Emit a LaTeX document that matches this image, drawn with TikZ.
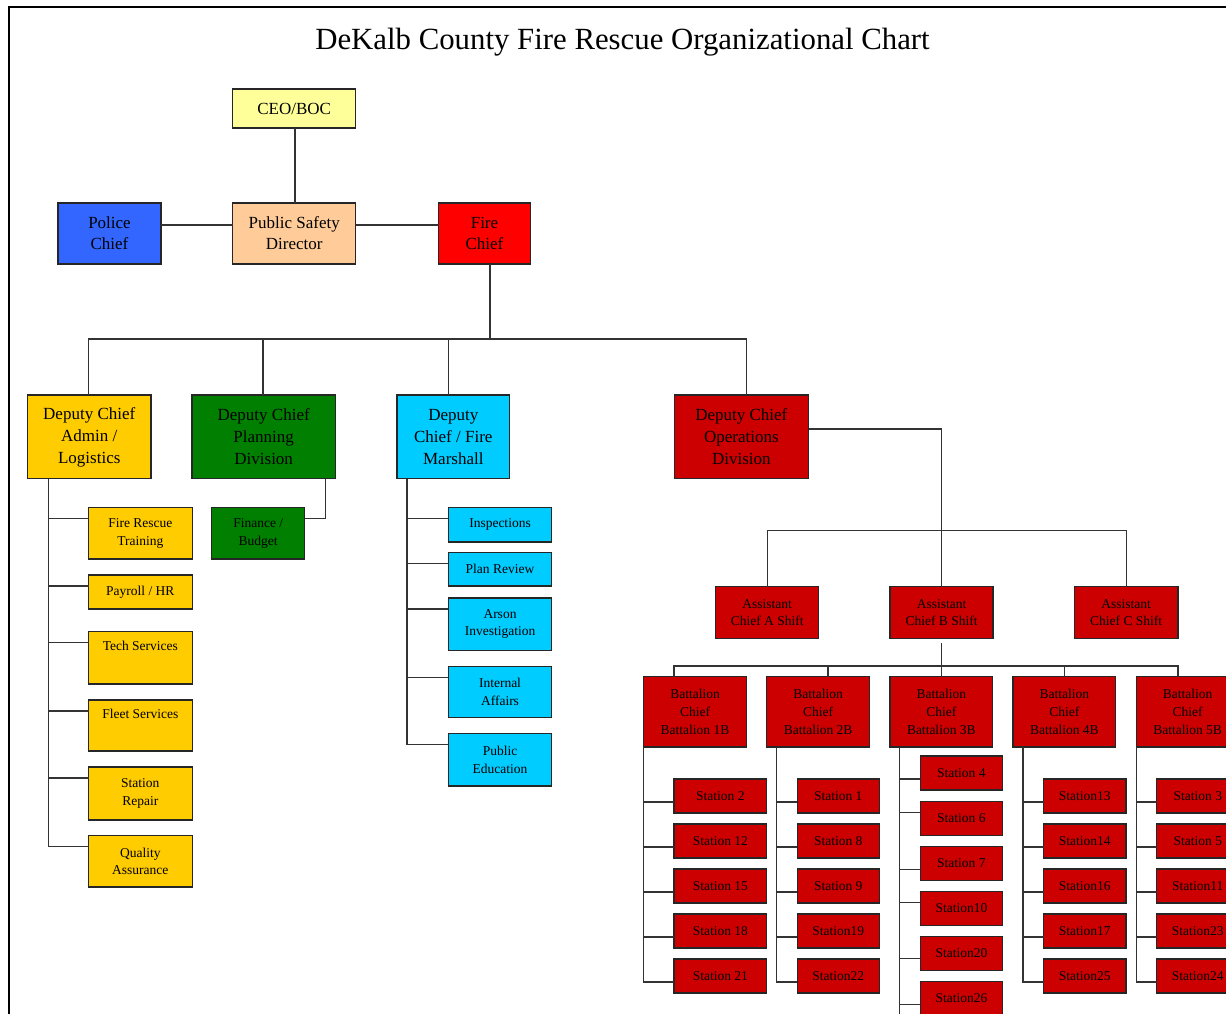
\documentclass[tikz,border=0pt]{standalone}
\usepackage{fontspec}
\setmainfont{Liberation Serif}
\usetikzlibrary{calc}
\definecolor{ceoY}{HTML}{FFFF99}
\definecolor{peach}{HTML}{FFCC99}
\definecolor{policeB}{HTML}{3366FF}
\definecolor{fireR}{HTML}{FF0000}
\definecolor{goldY}{HTML}{FFCC00}
\definecolor{planG}{HTML}{007F00}
\definecolor{cyanB}{HTML}{00CCFF}
\definecolor{opsR}{HTML}{CC0000}
\begin{document}
\begin{tikzpicture}[x=1pt,y=-1pt,
  box/.style={draw=black!85, line width=1.1pt, inner sep=1pt, outer sep=0pt, anchor=north west, align=center},
  big/.style={font=\fontsize{17}{21}\selectfont},
  dep/.style={font=\fontsize{17}{22}\selectfont},
  sml/.style={font=\fontsize{13.5}{17.5}\selectfont},
  bat/.style={font=\fontsize{13.5}{18}\selectfont},
  wire/.style={draw=black!80, line width=1.1pt},
]
\useasboundingbox (0,0) rectangle (1226,1014);
\clip (0,0) rectangle (1226,1014);
% frame
\draw[line width=1.6pt] (9,1030) -- (9,7) -- (1240,7);
% title
\node[font=\fontsize{30.8}{36}\selectfont, anchor=base, inner sep=0pt] (title) at (622.5,50) {DeKalb County Fire Rescue Organizational Chart};

% ---------- connectors (drawn first, boxes on top) ----------
\coordinate (fcbus) at (490,339);
\coordinate (admT) at (48.2,478.7);
\coordinate (marT) at (407,478.7);
\coordinate (shbus) at (941.5,530.7);
\coordinate (bbus) at (941.5,666);

% top level
\node[box, big, fill=ceoY, minimum width=123.4pt, minimum height=39pt] (ceo) at (232.5,89) {CEO/BOC};
\node[box, big, fill=policeB, minimum width=103pt, minimum height=61pt] (police) at (58,203) {Police\\Chief};
\node[box, big, fill=peach, minimum width=123.4pt, minimum height=61pt] (psd) at (232.5,203) {Public Safety\\Director};
\node[box, big, fill=fireR, minimum width=92pt, minimum height=61pt] (fire) at (438.5,203) {Fire\\Chief};

% deputies
\node[box, dep, fill=goldY, minimum width=123.5pt, minimum height=83.7pt] (admin) at (27.5,395) {Deputy Chief\\Admin /\\Logistics};
\node[box, dep, fill=planG, minimum width=143.4pt, minimum height=83.7pt] (planning) at (192,395) {Deputy Chief\\Planning\\Division};
\node[box, dep, fill=cyanB, minimum width=112.6pt, minimum height=83.7pt] (marshal) at (397,395) {Deputy\\Chief / Fire\\Marshall};
\node[box, dep, fill=opsR, minimum width=134.5pt, minimum height=83.7pt] (ops) at (674.1,395) {Deputy Chief\\Operations\\Division};

% admin children
\node[box, sml, fill=goldY, minimum width=103.5pt, minimum height=51.3pt] (frt) at (88.6,507.7) {Fire Rescue\\Training};
\node[box, sml, fill=goldY, minimum width=103.5pt, minimum height=34pt] (pay) at (88.6,575) {Payroll / HR};
\node[box, sml, fill=goldY, minimum width=103.5pt, minimum height=52.7pt] (tech) at (88.6,631.3) {Tech Services\\\strut};
\node[box, sml, fill=goldY, minimum width=103.5pt, minimum height=51pt] (fleet) at (88.6,700) {Fleet Services\\\strut};
\node[box, sml, fill=goldY, minimum width=103.5pt, minimum height=53pt] (repair) at (88.6,767) {Station\\Repair};
\node[box, sml, fill=goldY, minimum width=103.5pt, minimum height=51.7pt] (qa) at (88.6,835.3) {Quality\\Assurance};
% finance
\node[box, sml, fill=planG, minimum width=92.8pt, minimum height=51.3pt] (finance) at (211.8,507.7) {Finance /\\Budget};
% marshal children
\node[box, sml, fill=cyanB, minimum width=103.6pt, minimum height=34.3pt] (insp) at (448.2,507.7) {Inspections};
\node[box, sml, fill=cyanB, minimum width=103.6pt, minimum height=33.7pt] (planrev) at (448.2,552.3) {Plan Review};
\node[box, sml, fill=cyanB, minimum width=103.6pt, minimum height=52.3pt] (arson) at (448.2,598) {Arson\\Investigation};
\node[box, sml, fill=cyanB, minimum width=103.6pt, minimum height=51.4pt] (ia) at (448.2,666.3) {Internal\\Affairs};
\node[box, sml, fill=cyanB, minimum width=103.6pt, minimum height=52.3pt] (pe) at (448.2,733.7) {Public\\Education};

% assistant chiefs
\node[box, sml, fill=opsR, minimum width=102.6pt, minimum height=51.6pt] (astA) at (715.9,586.7) {Assistant\\Chief A Shift};
\node[box, sml, fill=opsR, minimum width=103pt, minimum height=51.6pt] (astB) at (890,586.7) {Assistant\\Chief B Shift};
\node[box, sml, fill=opsR, minimum width=103.7pt, minimum height=51.6pt] (astC) at (1074.3,586.7) {Assistant\\Chief C Shift};

% battalion chiefs
\node[box, bat, fill=opsR, minimum width=102.6pt, minimum height=70.3pt] (b1) at (643.7,676.7) {Battalion\\Chief\\Battalion 1B};
\node[box, bat, fill=opsR, minimum width=102.6pt, minimum height=70.3pt] (b2) at (766.8,676.7) {Battalion\\Chief\\Battalion 2B};
\node[box, bat, fill=opsR, minimum width=102.6pt, minimum height=70.3pt] (b3) at (890,676.7) {Battalion\\Chief\\Battalion 3B};
\node[box, bat, fill=opsR, minimum width=102.6pt, minimum height=70.3pt] (b4) at (1013,676.7) {Battalion\\Chief\\Battalion 4B};
\node[box, bat, fill=opsR, minimum width=102.6pt, minimum height=70.3pt] (b5) at (1136.3,676.7) {Battalion\\Chief\\Battalion 5B};

% stations
\foreach \lab [count=\i from 0] in {Station 2,Station 12,Station 15,Station 18,Station 21}
  \node[box, sml, fill=opsR, minimum width=92.8pt, minimum height=34pt] (sa\i) at (674,779+45*\i) {\lab};
\foreach \lab [count=\i from 0] in {Station 1,Station 8,Station 9,Station19,Station22}
  \node[box, sml, fill=opsR, minimum width=82pt, minimum height=34pt] (sb\i) at (797.2,779+45*\i) {\lab};
\foreach \lab [count=\i from 0] in {Station 4,Station 6,Station 7,Station10,Station20,Station26}
  \node[box, sml, fill=opsR, minimum width=82pt, minimum height=34pt] (sc\i) at (920.4,756+45.1*\i) {\lab};
\foreach \lab [count=\i from 0] in {Station13,Station14,Station16,Station17,Station25}
  \node[box, sml, fill=opsR, minimum width=82.5pt, minimum height=34pt] (sd\i) at (1043.5,779+45*\i) {\lab};
\foreach \lab [count=\i from 0] in {Station 3,Station 5,Station11,Station23,Station24}
  \node[box, sml, fill=opsR, minimum width=82pt, minimum height=34pt] (se\i) at (1156.8,779+45*\i) {\lab};

% ---------- connectors ----------
\draw[wire] (ceo.south -| 295,0) -- (psd.north -| 295,0);
\draw[wire] (police.east |- 0,225) -- (psd.west |- 0,225);
\draw[wire] (psd.east |- 0,225) -- (fire.west |- 0,225);
\draw[wire] (fire.south -| fcbus) -- (fcbus);
\draw[wire] (admin.north -| 88.7,0) |- (fcbus) -| (ops.north -| 746.3,0);
\draw[wire] (planning.north -| 263,0) -- (fcbus -| 263,0);
\draw[wire] (marshal.north -| 448.3,0) -- (fcbus -| 448.3,0);

% admin branch
\draw[wire] (admin.south -| admT) |- ([yshift=-11pt]qa.north west);
\foreach \n in {frt,pay,tech,fleet,repair} {
  \path ([yshift=-11pt]\n.north west) coordinate (p\n);
  \draw[wire] (p\n) -- (p\n -| admT);
}
% finance
\draw[wire] (planning.south -| 325.4,0) |- ([yshift=-11pt]finance.north east);
% marshal branch
\draw[wire] (marshal.south -| marT) |- ([yshift=-11pt]pe.north west);
\foreach \n in {insp,planrev,arson,ia} {
  \path ([yshift=-11pt]\n.north west) coordinate (p\n);
  \draw[wire] (p\n) -- (p\n -| marT);
}

% operations branch
\draw[wire] ([yshift=-34pt]ops.north east) -| (astB.north -| shbus);
\draw[wire] (astA.north) |- (shbus) -| (astC.north);
\draw[wire] ([yshift=-5pt]astB.south -| bbus) -- (b3.north -| bbus);
\draw[wire] (b1.north -| 674,0) |- (bbus) -| (b5.north -| 1178,0);
\draw[wire] (b2.north -| 828,0) -- (bbus -| 828,0);
\draw[wire] (b4.north) -- (b4.north |- bbus);

% battalion trunks
\coordinate (tA) at (643.7,747);
\coordinate (tB) at (776.7,747);
\coordinate (tC) at (899.9,747);
\coordinate (tD) at (1023,747);
\coordinate (tE) at (1136.3,747);
\draw[wire] (tA) |- ([yshift=11pt]sa4.south west);
\draw[wire] (tB) |- ([yshift=11pt]sb4.south west);
\draw[wire] (tD) |- ([yshift=11pt]sd4.south west);
\draw[wire] (tE) |- ([yshift=11pt]se4.south west);
\foreach \i in {0,...,3} {
  \path ([yshift=11pt]sa\i.south west) coordinate (qa\i);
  \draw[wire] (qa\i) -- (qa\i -| tA);
  \path ([yshift=11pt]sb\i.south west) coordinate (qb\i);
  \draw[wire] (qb\i) -- (qb\i -| tB);
  \path ([yshift=11pt]sd\i.south west) coordinate (qd\i);
  \draw[wire] (qd\i) -- (qd\i -| tD);
  \path ([yshift=11pt]se\i.south west) coordinate (qe\i);
  \draw[wire] (qe\i) -- (qe\i -| tE);
}
\coordinate (b3end) at (899.9,1030);
\draw[wire] (tC) -- (b3end);
\path ([yshift=11pt]sc0.south west) coordinate (qc0);
\path ([yshift=-11pt]sc1.north west) coordinate (qc1);
\path ([yshift=11pt]sc2.south west) coordinate (qc2);
\path ([yshift=-11pt]sc3.north west) coordinate (qc3);
\path ([yshift=12pt]sc4.south west) coordinate (qc4);
\path ([yshift=11pt]sc5.south west) coordinate (qc5);
\foreach \i in {0,...,5}
  \draw[wire] (qc\i) -- (qc\i -| tC);
\end{tikzpicture}
\end{document}
